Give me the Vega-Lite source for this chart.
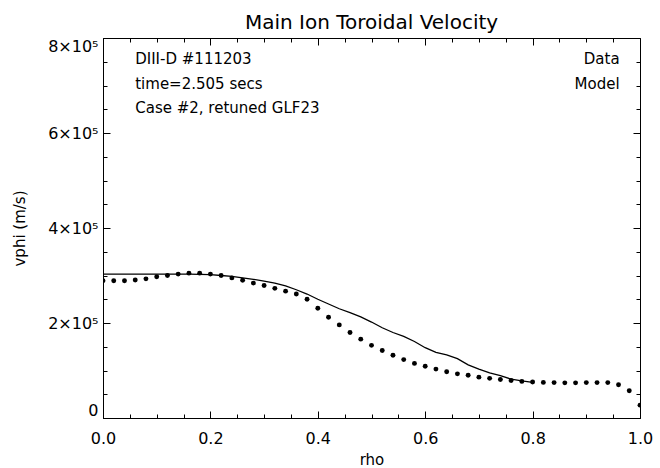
{
  "$schema": "https://vega.github.io/schema/vega-lite/v6.json",
  "width": 537,
  "height": 380,
  "autosize": {"type": "none"},
  "padding": {"left": 103, "top": 38, "right": 20, "bottom": 50},
  "title": {"text": "Main Ion Toroidal Velocity", "fontSize": 20, "font": "DejaVu Sans", "fontWeight": "normal", "color": "black", "anchor": "middle", "offset": 5},
  "datasets": {
    "data": [
      {"rho": 0.00, "vphi": 289000}, {"rho": 0.02, "vphi": 289000}, {"rho": 0.04, "vphi": 289000},
      {"rho": 0.06, "vphi": 290500}, {"rho": 0.08, "vphi": 293000}, {"rho": 0.10, "vphi": 297500},
      {"rho": 0.12, "vphi": 300000}, {"rho": 0.14, "vphi": 303000}, {"rho": 0.16, "vphi": 305000},
      {"rho": 0.18, "vphi": 305000}, {"rho": 0.20, "vphi": 303000}, {"rho": 0.22, "vphi": 300000},
      {"rho": 0.24, "vphi": 295000}, {"rho": 0.26, "vphi": 290000}, {"rho": 0.28, "vphi": 284000},
      {"rho": 0.30, "vphi": 279000}, {"rho": 0.32, "vphi": 273000}, {"rho": 0.34, "vphi": 267000},
      {"rho": 0.36, "vphi": 261000}, {"rho": 0.38, "vphi": 250000}, {"rho": 0.40, "vphi": 231000},
      {"rho": 0.42, "vphi": 212000}, {"rho": 0.44, "vphi": 196000}, {"rho": 0.46, "vphi": 180000},
      {"rho": 0.48, "vphi": 166000}, {"rho": 0.50, "vphi": 153000}, {"rho": 0.52, "vphi": 142000},
      {"rho": 0.54, "vphi": 132000}, {"rho": 0.56, "vphi": 123000}, {"rho": 0.58, "vphi": 115000},
      {"rho": 0.60, "vphi": 109000}, {"rho": 0.62, "vphi": 103000}, {"rho": 0.64, "vphi": 97500},
      {"rho": 0.66, "vphi": 93000}, {"rho": 0.68, "vphi": 90000}, {"rho": 0.70, "vphi": 86000},
      {"rho": 0.72, "vphi": 83500}, {"rho": 0.74, "vphi": 81000}, {"rho": 0.76, "vphi": 79000},
      {"rho": 0.78, "vphi": 77000}, {"rho": 0.80, "vphi": 75800}, {"rho": 0.82, "vphi": 75000},
      {"rho": 0.84, "vphi": 74500}, {"rho": 0.86, "vphi": 74000}, {"rho": 0.88, "vphi": 74000},
      {"rho": 0.90, "vphi": 74500}, {"rho": 0.92, "vphi": 74500}, {"rho": 0.94, "vphi": 74500},
      {"rho": 0.96, "vphi": 70000}, {"rho": 0.98, "vphi": 57500}, {"rho": 1.00, "vphi": 27000}
    ],
    "model": [
      {"rho": 0.00, "vphi": 303000}, {"rho": 0.04, "vphi": 303000}, {"rho": 0.08, "vphi": 303000},
      {"rho": 0.12, "vphi": 303000}, {"rho": 0.16, "vphi": 303000}, {"rho": 0.20, "vphi": 302000},
      {"rho": 0.22, "vphi": 300000}, {"rho": 0.24, "vphi": 298000}, {"rho": 0.26, "vphi": 295000},
      {"rho": 0.28, "vphi": 292000}, {"rho": 0.30, "vphi": 288000}, {"rho": 0.32, "vphi": 284000},
      {"rho": 0.34, "vphi": 278000}, {"rho": 0.36, "vphi": 270000}, {"rho": 0.38, "vphi": 261000},
      {"rho": 0.40, "vphi": 250000}, {"rho": 0.42, "vphi": 240000}, {"rho": 0.44, "vphi": 230000},
      {"rho": 0.46, "vphi": 222000}, {"rho": 0.48, "vphi": 213000}, {"rho": 0.50, "vphi": 202000},
      {"rho": 0.52, "vphi": 190000}, {"rho": 0.54, "vphi": 180000}, {"rho": 0.56, "vphi": 172000},
      {"rho": 0.58, "vphi": 161000}, {"rho": 0.60, "vphi": 148000}, {"rho": 0.62, "vphi": 138000},
      {"rho": 0.64, "vphi": 133000}, {"rho": 0.66, "vphi": 125000}, {"rho": 0.68, "vphi": 112000},
      {"rho": 0.70, "vphi": 103000}, {"rho": 0.72, "vphi": 95000}, {"rho": 0.74, "vphi": 89000},
      {"rho": 0.76, "vphi": 82000}, {"rho": 0.78, "vphi": 78000}, {"rho": 0.80, "vphi": 75000}
    ],
    "notesLeft": [
      {"rho": 0.06, "vphi": 755000, "label": "DIII-D #111203"},
      {"rho": 0.06, "vphi": 703000, "label": "time=2.505 secs"},
      {"rho": 0.06, "vphi": 652000, "label": "Case #2, retuned GLF23"}
    ],
    "notesRight": [
      {"rho": 0.962, "vphi": 755000, "label": "Data"},
      {"rho": 0.962, "vphi": 703000, "label": "Model"}
    ]
  },
  "layer": [
    {
      "data": {"name": "data"},
      "mark": {"type": "point", "filled": true, "shape": "circle", "size": 24, "color": "black", "opacity": 1, "clip": true},
      "encoding": {
        "x": {"field": "rho", "type": "quantitative", "scale": {"domain": [0, 1], "nice": false, "zero": false},
          "axis": {"orient": "bottom", "title": "rho", "values": [0,0.05,0.1,0.15,0.2,0.25,0.3,0.35,0.4,0.45,0.5,0.55,0.6,0.65,0.7,0.75,0.8,0.85,0.9,0.95,1],
            "labelExpr": "abs(datum.value*5-round(datum.value*5))<0.001 ? format(datum.value,'.1f') : ''",
            "tickSize": {"condition": {"test": "abs(datum.value*5-round(datum.value*5))<0.001", "value": -7}, "value": -4},
            "labelPadding": 19, "titlePadding": 6, "labelFlush": false}},
        "y": {"field": "vphi", "type": "quantitative", "scale": {"domain": [0, 800000], "nice": false, "zero": false},
          "axis": {"orient": "left", "title": "vphi (m/s)", "values": [0,50000,100000,150000,200000,250000,300000,350000,400000,450000,500000,550000,600000,650000,700000,750000,800000],
            "labelExpr": "datum.value == 0 ? '0' : (datum.value % 200000 == 0 ? format(datum.value/100000,'d') + '×10⁵' : '')",
            "tickSize": {"condition": {"test": "datum.value % 200000 == 0", "value": -7}, "value": -4},
            "labelPadding": 12, "titlePadding": 20, "labelFlush": true}}
      }
    },
    {
      "data": {"name": "model"},
      "mark": {"type": "line", "color": "black", "strokeWidth": 1.3},
      "encoding": {
        "x": {"field": "rho", "type": "quantitative", "scale": {"domain": [0, 1], "nice": false, "zero": false},
          "axis": {"orient": "top", "title": null, "labels": false, "domain": false, "values": [0,0.05,0.1,0.15,0.2,0.25,0.3,0.35,0.4,0.45,0.5,0.55,0.6,0.65,0.7,0.75,0.8,0.85,0.9,0.95,1],
            "tickSize": {"condition": {"test": "abs(datum.value*5-round(datum.value*5))<0.001", "value": -7}, "value": -4}}},
        "y": {"field": "vphi", "type": "quantitative", "scale": {"domain": [0, 800000], "nice": false, "zero": false},
          "axis": {"orient": "right", "title": null, "labels": false, "domain": false, "values": [0,50000,100000,150000,200000,250000,300000,350000,400000,450000,500000,550000,600000,650000,700000,750000,800000],
            "tickSize": {"condition": {"test": "datum.value % 200000 == 0", "value": -7}, "value": -4}}}
      }
    },
    {
      "data": {"name": "notesLeft"},
      "mark": {"type": "text", "align": "left", "baseline": "middle", "font": "DejaVu Sans", "fontSize": 15, "color": "black"},
      "encoding": {
        "x": {"field": "rho", "type": "quantitative", "scale": {"domain": [0, 1], "nice": false, "zero": false}, "axis": null},
        "y": {"field": "vphi", "type": "quantitative", "scale": {"domain": [0, 800000], "nice": false, "zero": false}, "axis": null},
        "text": {"field": "label"}
      }
    },
    {
      "data": {"name": "notesRight"},
      "mark": {"type": "text", "align": "right", "baseline": "middle", "font": "DejaVu Sans", "fontSize": 15, "color": "black"},
      "encoding": {
        "x": {"field": "rho", "type": "quantitative", "scale": {"domain": [0, 1], "nice": false, "zero": false}, "axis": null},
        "y": {"field": "vphi", "type": "quantitative", "scale": {"domain": [0, 800000], "nice": false, "zero": false}, "axis": null},
        "text": {"field": "label"}
      }
    }
  ],
  "resolve": {"scale": {"x": "independent", "y": "independent"}},
  "config": {
    "view": {"stroke": "black", "strokeWidth": 1},
    "axis": {"grid": false, "domainColor": "black", "tickColor": "black", "labelColor": "black", "titleColor": "black",
      "labelFont": "DejaVu Sans", "titleFont": "DejaVu Sans", "labelFontSize": 16, "titleFontSize": 15, "titleFontWeight": "normal", "tickWidth": 1}
  }
}
